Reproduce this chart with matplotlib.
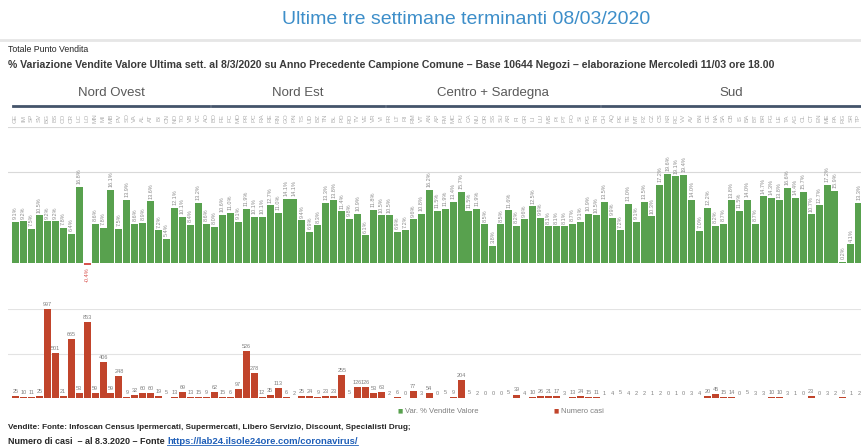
import numpy as np
import matplotlib
matplotlib.use('Agg')
import matplotlib.pyplot as plt
import matplotlib.transforms as mtransforms
from matplotlib import font_manager
from matplotlib.lines import Line2D

W, H = 862, 448

# Aree e numero di province per area
aree = ['Nord Ovest', 'Nord Est', 'Centro + Sardegna', 'Sud']
n_province = [25, 22, 27, 33]

province = [
    'GE', 'IM', 'SP', 'SV', 'BG', 'BS', 'CO', 'CR', 'LC', 'LO', 'MN', 'MI', 'MB',
    'PV', 'SO', 'VA', 'AL', 'AT', 'BI', 'CN', 'NO', 'TO', 'VB', 'VC', 'AO',
    'BO', 'FE', 'FC', 'MO', 'PR', 'PC', 'RA', 'RE', 'RN', 'GO', 'PN', 'TS', 'UD',
    'BZ', 'TN', 'BL', 'PD', 'RO', 'TV', 'VE', 'VR', 'VI',
    'FR', 'LT', 'RI', 'RM', 'VT', 'AN', 'AP', 'FM', 'MC', 'PU', 'CA', 'NU', 'OR',
    'SS', 'SU', 'AR', 'FI', 'GR', 'LI', 'LU', 'MS', 'PI', 'PT', 'PO', 'SI', 'PG', 'TR',
    'CH', 'AQ', 'PE', 'TE', 'MT', 'PZ', 'CZ', 'CS', 'KR', 'RC', 'VV', 'AV', 'BN',
    'CE', 'NA', 'SA', 'CB', 'IS', 'BA', 'BT', 'BR', 'FG', 'LE', 'TA', 'AG', 'CL',
    'CT', 'EN', 'ME', 'PA', 'RG', 'SR', 'TP',
]

# % variazione vendite valore ultima settimana vs anno precedente
var_vendite = [
    9.1, 9.2, 7.5, 10.5, 9.2, 9.2, 7.8, 6.4, 16.8, -0.4, 8.6, 7.8, 16.1,
    7.5, 13.9, 8.6, 8.9, 13.6, 7.2, 5.4, 12.1, 10.1, 8.4, 13.2, 8.6,
    8.0, 10.6, 11.0, 9.1, 11.9, 10.1, 10.1, 12.7, 11.0, 14.1, 14.1, 9.4, 6.9,
    8.3, 13.3, 13.8, 11.4, 9.8, 10.9, 6.1, 11.8, 10.5,
    10.5, 6.9, 7.2, 9.6, 10.8, 16.2, 11.5, 11.9, 13.4, 15.7, 11.5, 11.9, 8.5,
    3.8, 8.5, 11.6, 8.2, 9.6, 12.5, 9.9, 8.1, 8.1, 8.1, 8.7, 9.1, 10.9, 10.5,
    13.5, 9.9, 7.2, 13.0, 9.1, 13.5, 10.3, 17.2, 19.6, 19.1, 19.4, 14.0, 7.0,
    12.2, 8.2, 8.7, 13.8, 11.5, 14.0, 8.7, 14.7, 14.3, 13.8, 16.6, 14.4, 15.7,
    10.7, 12.7, 17.2, 15.9, 0.2, 4.1, 13.3,
]

# Numero casi al 8.3.2020
numero_casi = [
    25, 10, 11, 25, 997, 501, 21, 665, 53, 853, 59, 406, 59,
    248, 9, 32, 60, 60, 19, 5, 13, 69, 13, 15, 9,
    62, 15, 6, 97, 526, 278, 12, 35, 113, 6, 2, 25, 24,
    9, 23, 23, 255, 5, 126, 126, 53, 63,
    2, 6, 0, 77, 3, 54, 0, 5, 9, 204, 5, 2, 0,
    0, 0, 5, 39, 4, 10, 26, 21, 17, 3, 13, 24, 15, 11,
    1, 4, 5, 4, 2, 2, 1, 2, 0, 1, 0, 3, 4,
    20, 45, 15, 14, 0, 5, 3, 3, 10, 10, 3, 1, 0,
    23, 0, 3, 2, 8, 1, 2,
]

VERDE = '#58a14e'
ROSSO = '#c1442b'
GRIGIO = '#7f7f7f'

nomi = {f.name for f in font_manager.fontManager.ttflist}
NARROW = 'Liberation Sans Narrow' if 'Liberation Sans Narrow' in nomi else 'Liberation Sans'
plt.rcParams['font.family'] = ['Liberation Sans', 'DejaVu Sans']


def fx(px):
    return px / W


def fy(py):
    return 1 - py / H


fig = plt.figure(figsize=(W / 100, H / 100), dpi=100)

x = np.arange(len(province))
pitch = 7.956
x0 = -0.44 - 4 / pitch
x1 = -0.44 + 850 / pitch

# --- grafico vendite ---
g_top, g_bot = 127, 276.6
ax = fig.add_axes([fx(8), fy(g_bot), fx(854), (g_bot - g_top) / H])
colori = [VERDE if v >= 0 else '#d9534f' for v in var_vendite]
ax.bar(x, var_vendite, width=0.88, color=colori, zorder=2)
ax.set_xlim(x0, x1)
ax.set_ylim(-3, 30)
for yv in (20, 30):
    ax.axhline(yv, color='#d9d9d9', lw=0.8, zorder=1)
for xi, v in zip(x, var_vendite):
    if v >= 0:
        ax.annotate(f'{v:.1f}%', (xi, v), xytext=(0, 2), textcoords='offset points',
                    rotation=90, ha='center', va='bottom', fontsize=4, color='#8c8c8c')
    else:
        ax.annotate(f'{v:.1f}%', (xi, 0), xytext=(0, -3), textcoords='offset points',
                    rotation=90, ha='center', va='top', fontsize=4, color='#d9534f')
ax.axis('off')

# sigle province e intestazioni aree
trans = mtransforms.blended_transform_factory(ax.transData, fig.transFigure)
for xi, p in zip(x, province):
    ax.text(xi, fy(118), p, transform=trans, rotation=90, ha='center', va='center',
            fontsize=4.5, color='#b0b0b0')

start = 0
for nome, n in zip(aree, n_province):
    a, b = start - 0.44, start + n - 1 + 0.44
    ax.add_line(Line2D([a + 0.1, b - 0.1], [fy(106), fy(106)], transform=trans,
                       color='#44546a', lw=2, clip_on=False))
    ax.text((a + b) / 2, fy(93), nome, transform=trans, ha='center', va='center',
            fontsize=9.5, color='#595959')
    start += n

# --- grafico casi ---
r_base = 398
ax2 = fig.add_axes([fx(8), fy(r_base), fx(854), 89 / H])
ax2.patch.set_alpha(0)
ax2.bar(x, numero_casi, width=0.88, color=ROSSO, zorder=2)
ax2.set_xlim(x0, x1)
ax2.set_ylim(0, 1000)
for yv in (500, 1000):
    ax2.axhline(yv, color='#e3e3e3', lw=0.8, zorder=1)
for xi, v in zip(x, numero_casi):
    ax2.annotate(str(v), (xi, v), xytext=(0, 1.5), textcoords='offset points',
                 ha='center', va='bottom', fontsize=4.0, color=GRIGIO,
                 annotation_clip=False)
ax2.axis('off')

# --- titoli ---
fig.text(fx(466), fy(19), 'Ultime tre settimane terminanti 08/03/2020', ha='center',
         va='center', fontsize=14, color='#3d8ec9', family=NARROW)
fig.add_artist(Line2D([0, 1], [fy(40), fy(40)], color='#e6e6e6', lw=2))
fig.text(fx(8), fy(50), 'Totale Punto Vendita', ha='left', va='center',
         fontsize=6.3, color='#262626', family=NARROW)
fig.text(fx(8), fy(65), '% Variazione Vendite Valore Ultima sett. al 8/3/2020 su Anno Precedente '
         'Campione Comune – Base 10644 Negozi – elaborazione Mercoledì 11/03 ore 18.00',
         ha='left', va='center', fontsize=7.6, fontweight='bold', color='#3a3a3a', family=NARROW)

# --- legenda ---
fig.text(fx(398), fy(411), '■', color=VERDE, fontsize=4, ha='left', va='center',
         family='DejaVu Sans')
fig.text(fx(405), fy(411), 'Var. % Vendite Valore', color=GRIGIO, fontsize=5.5,
         ha='left', va='center')
fig.text(fx(554), fy(411), '■', color=ROSSO, fontsize=4, ha='left', va='center',
         family='DejaVu Sans')
fig.text(fx(561), fy(411), 'Numero casi', color=GRIGIO, fontsize=5.5, ha='left', va='center')

# --- note ---
fig.text(fx(8), fy(427), 'Vendite: Fonte: Infoscan Census Ipermercati, Supermercati, Libero '
         'Servizio, Discount, Specialisti Drug;', ha='left', va='center', fontsize=5.9,
         fontweight='bold', color='#262626', family=NARROW)
t1 = fig.text(fx(8), fy(441), 'Numero di casi  – al 8.3.2020 – Fonte ', ha='left', va='center',
              fontsize=6.5, fontweight='bold', color='#262626', family=NARROW)
fig.canvas.draw()
bb = t1.get_window_extent()
link = fig.text(bb.x1 / W, fy(441), 'https://lab24.ilsole24ore.com/coronavirus/', ha='left',
                va='center', fontsize=6.8, fontweight='bold', color='#1f5fb8', family=NARROW)
fig.canvas.draw()
lb = link.get_window_extent()
fig.add_artist(Line2D([lb.x0 / W, lb.x1 / W], [(lb.y0 + 0.5) / H] * 2, color='#1f5fb8', lw=0.6))

fig.savefig('out.png', dpi=100)
